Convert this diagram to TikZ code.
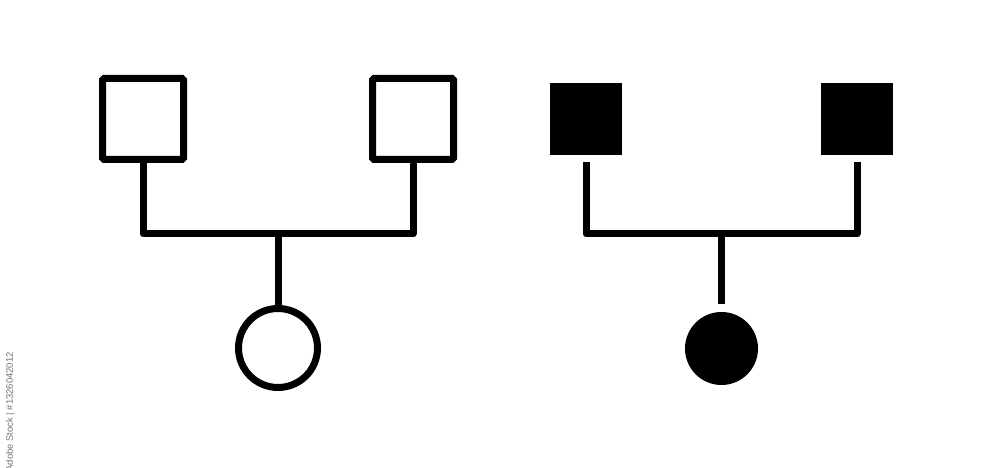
\documentclass[tikz,border=0pt]{standalone}
\usepackage{fontspec}
\newfontfamily\wmfont{Liberation Sans}
\usetikzlibrary{calc}
\begin{document}
\begin{tikzpicture}[x=1bp,y=-1bp,
  openbox/.style={draw=black,line width=7bp,minimum size=81bp,inner sep=0pt,outer sep=0pt,rectangle,rounded corners=1.5bp},
  solidbox/.style={fill=black,draw=none,minimum size=72bp,inner sep=0pt,outer sep=7bp,rectangle},
  opencirc/.style={draw=black,line width=7bp,minimum size=79bp,inner sep=0pt,outer sep=0pt,circle},
  solidcirc/.style={fill=black,draw=none,minimum size=73bp,inner sep=0pt,outer sep=8bp,circle},
  link/.style={draw=black,line width=7bp,line join=round},
  wm/.style={font=\wmfont\fontsize{9.5}{11}\selectfont,text=black!55,rotate=90,inner sep=0pt}]
\useasboundingbox (0,0) rectangle (1000,468);
\clip (0,0) rectangle (1000,468);
\fill[white] (0,0) rectangle (1000,468);
% left icon (outline)
\node[openbox] (fa) at (143,119) {};
\node[openbox] (ma) at (413,119) {};
\node[opencirc] (ca) at (278,348) {};
\coordinate (ja) at (278,234);
\draw[link] (fa.south) |- (ja) -| (ma.south);
\draw[link] (ja) -- (ca.north);
% right icon (solid)
\node[solidbox] (fb) at (586,119) {};
\node[solidbox] (mb) at (857,119) {};
\node[solidcirc] (cb) at (721.5,348.5) {};
\coordinate (jb) at (721.5,234);
\draw[link] (fb.south) |- (jb) -| (mb.south);
\draw[link] (jb) -- (cb.north);
% watermark id
\node[wm,anchor=south east] (wid) at (15,352) {Adobe Stock | \#1326042012};
\end{tikzpicture}
\end{document}
